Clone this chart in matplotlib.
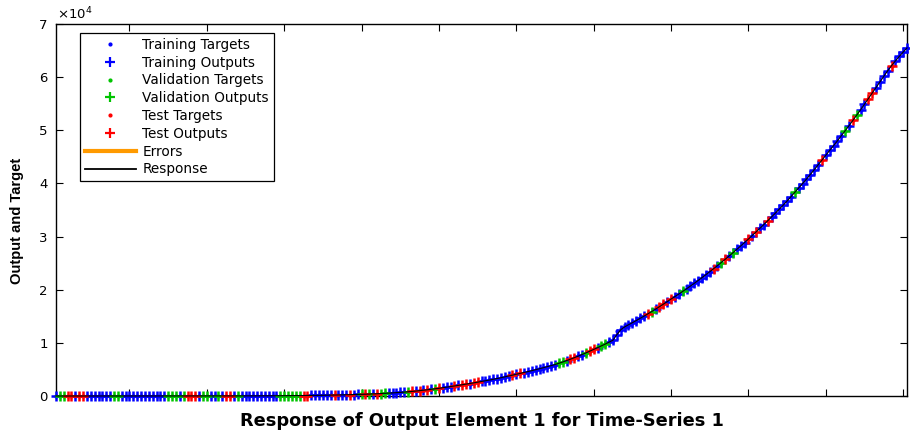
import numpy as np
import matplotlib
matplotlib.use('Agg')
import matplotlib.pyplot as plt
from matplotlib.lines import Line2D

# ---------------- data ----------------
targets = [
    0, 0, 0, 0, 0, 0, 0, 0, 0, 0,
    0, 0, 0, 0, 0, 0, 0, 0, 0, 0,
    0, 0, 0, 1, 1, 1, 2, 2, 2, 3,
    3, 4, 4, 5, 6, 7, 8, 9, 10, 11,
    12, 13, 14, 15, 16, 17, 18, 19, 20, 21,
    22, 24, 26, 29, 32, 35, 39, 43, 48, 53,
    58, 64, 70, 77, 85, 93, 102, 112, 123, 135,
    148, 162, 177, 193, 210, 228, 247, 267, 288, 310,
    335, 362, 392, 425, 460, 498, 538, 580, 625, 672,
    730, 790, 855, 925, 1000, 1080, 1165, 1255, 1350, 1450,
    1555, 1660, 1770, 1880, 1995, 2110, 2230, 2350, 2475, 2600,
    2730, 2860, 2995, 3135, 3280, 3430, 3590, 3755, 3925, 4100,
    4260, 4420, 4590, 4765, 4945, 5130, 5320, 5515, 5715, 5920,
    6150, 6400, 6660, 6930, 7210, 7500, 7800, 8110, 8430, 8760,
    9090, 9430, 9780, 10140, 10500, 12250, 12620, 13000, 13390, 13790,
    14190, 14600, 15020, 15450, 15890, 16340, 16800, 17270, 17750, 18240,
    18700, 19180, 19670, 20170, 20680, 21200, 21730, 22270, 22820, 23380,
    23950, 24530, 25120, 25720, 26330, 26950, 27580, 28220, 28870, 29530,
    30200, 30880, 31570, 32270, 32980, 33700, 34430, 35170, 35920, 36680,
    37500, 38300, 39120, 39950, 40800, 41670, 42560, 43460, 44370, 45300,
    46200, 47100, 48000, 48950, 49900, 50850, 51850, 52850, 53850, 54900,
    55950, 57000, 58050, 59100, 60150, 61200, 62150, 63050, 63900, 64700,
    65500,
]

# B = training, G = validation, R = test  (one letter per time step)
split = (
    "BGGRRBRRBB" "BBBBBGGBBB" "BBBBBBBBBG" "GGBGRRRBGG" "BBGBRRBGBB"
    "BBBBBBBBGG" "GGGGRRBBBB" "BBRBBBRBBG" "RGBRGGBBBB" "BGRBRBRBGR"
    "BBBRBRRBRR" "BBBBBBBBRB" "RBBBBBBBBB" "GGBRRBBGRR" "BGGBBBBBBB"
    "BBBRGBRRBR" "BBGBBBBBBB" "RBGRBGBBBR" "BRBBRBBBBB" "BGBBBBBBRB"
    "BBBBGBRGBB" "RRBBBBRBBB" "B"
)

# output minus target at the few steps where they visibly differ
output_offsets = {146: -700, 147: -150}

series_names = ['Training', 'Validation', 'Test']
series_codes = ['B', 'G', 'R']
series_colors = ['#0000FF', '#00C400', '#FF0000']
error_color = '#FF9A00'

xticks = [20, 40, 60, 80, 100, 120, 140, 160, 180, 200, 220]
yticks = [0, 10000, 20000, 30000, 40000, 50000, 60000, 70000]
ytick_labels = ['0', '1', '2', '3', '4', '5', '6', '7']
x_label = 'Response of Output Element 1 for Time-Series 1'
y_label = 'Output and Target'
exponent_label = r'$\times10^{4}$'

# ---------------- figure ----------------
W, H = 910, 432
fig = plt.figure(figsize=(W / 100, H / 100), dpi=100)
ax = fig.add_axes([56 / W, 36 / H, 851 / W, 372 / H])

t = np.arange(1, len(targets) + 1)
tg = np.array(targets, dtype=float)
out = tg.copy()
for k, v in output_offsets.items():
    out[k - 1] += v
codes = np.array(list(split))

# errors (target -> output)
ax.vlines(t, tg, out, colors=error_color, linewidth=2.0, zorder=2, clip_on=False)

z = 3
for name, code, col in zip(series_names, series_codes, series_colors):
    m = codes == code
    ax.plot(t[m], tg[m], linestyle='none', marker='.', markersize=4,
            color=col, zorder=z, clip_on=False)
    ax.plot(t[m], out[m], linestyle='none', marker='+', markersize=7.4,
            markeredgewidth=1.8, color=col, zorder=z + 1, clip_on=False)
    z += 2

ax.plot(t, out, color='black', linewidth=0.8, zorder=z, clip_on=False)

ax.set_xlim(1, 221)
ax.set_ylim(0, 70000)
ax.set_xticks(xticks)
ax.set_xticklabels([])
ax.set_yticks(yticks)
ax.set_yticklabels(ytick_labels)
ax.tick_params(direction='in', length=5, width=0.8, top=True, right=True,
               labelsize=9.5, pad=6, colors='black')
for s in ax.spines.values():
    s.set_linewidth(1.0)
    s.set_color('black')

ax.set_xlabel(x_label, fontsize=12.75, fontweight='bold', family='DejaVu Sans')
ax.xaxis.set_label_coords(0.5, (396 - 426) / 372)
ax.xaxis.label.set_va('baseline')

ax.set_ylabel(y_label, fontsize=10.6, fontweight='bold',
              family=['Liberation Sans', 'DejaVu Sans'])
ax.yaxis.set_label_coords((24 - 56) / 851, 0.47)

fig.text(57 / W, 1 - 19.5 / H, exponent_label, fontsize=9.5, ha='left', va='baseline')

# legend with proxy handles
handles, labels = [], []
for name, col in zip(series_names, series_colors):
    handles.append(Line2D([], [], linestyle='none', marker='.', markersize=4, color=col))
    labels.append(f'{name} Targets')
    handles.append(Line2D([], [], linestyle='none', marker='+', markersize=7.5,
                          markeredgewidth=1.6, color=col))
    labels.append(f'{name} Outputs')
handles.append(Line2D([], [], color=error_color, linewidth=3))
labels.append('Errors')
handles.append(Line2D([], [], color='black', linewidth=1.3))
labels.append('Response')

leg = ax.legend(handles, labels, loc='upper left', bbox_to_anchor=(0.028, 0.976),
                borderaxespad=0, handlelength=3.8, handletextpad=0.45,
                labelspacing=0.28, borderpad=0.35, fancybox=False, framealpha=1,
                edgecolor='black', prop={'family': 'DejaVu Sans', 'size': 9.8})
leg.get_frame().set_linewidth(0.9)
leg.set_zorder(20)

fig.savefig('out.png', dpi=100)
